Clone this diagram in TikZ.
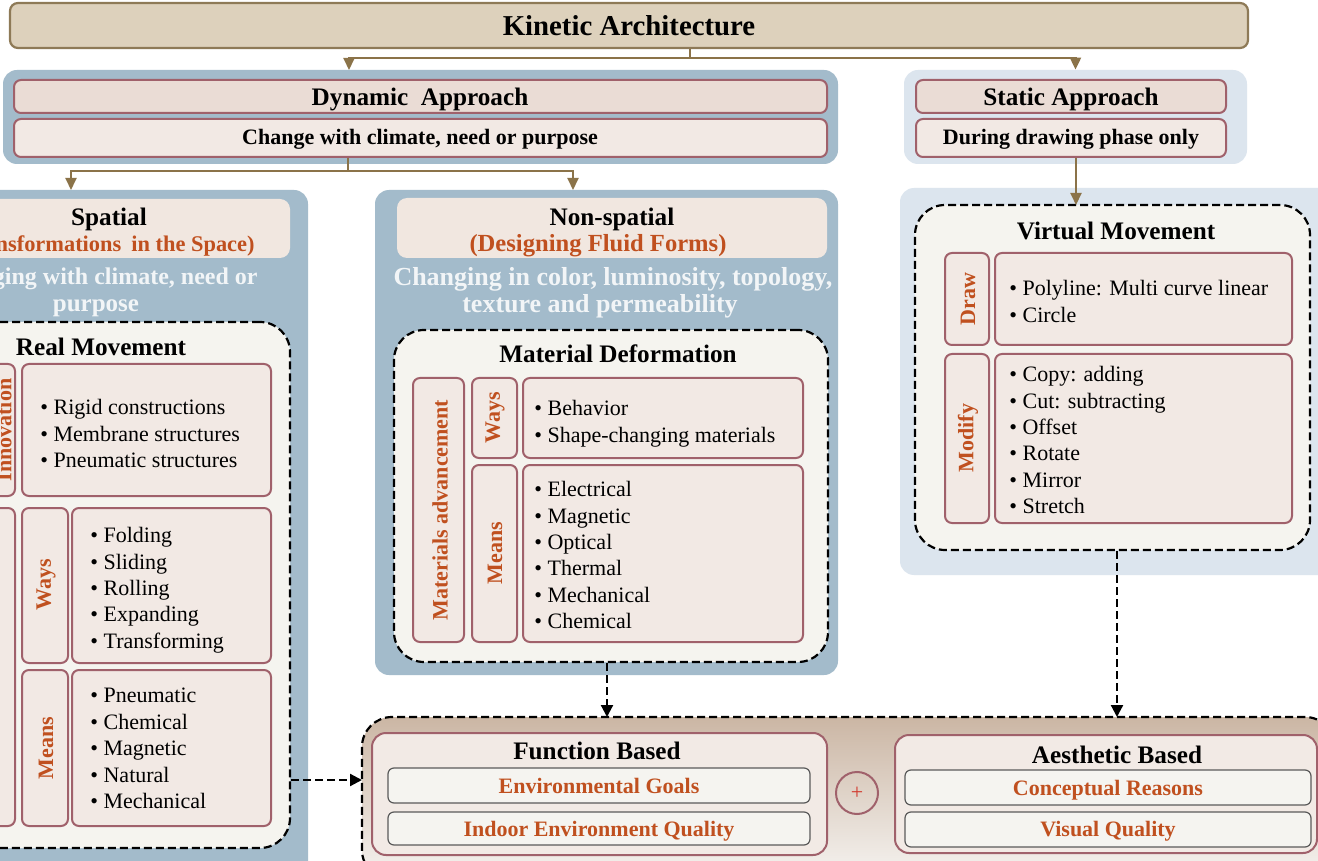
\documentclass[tikz,border=0pt]{standalone}
\usepackage{fontspec}
\setmainfont{Liberation Serif}
\usetikzlibrary{fit,arrows.meta}
\definecolor{kinfill}{HTML}{DDD1BC}
\definecolor{kinline}{HTML}{8E7A57}
\definecolor{conncol}{HTML}{8B7349}
\definecolor{panelblue}{HTML}{A3BBCB}
\definecolor{panellight}{HTML}{DCE5EE}
\definecolor{boxfill}{HTML}{F2E9E4}
\definecolor{boxfillA}{HTML}{EADCD5}
\definecolor{boxline}{HTML}{A0616B}
\definecolor{hdrfill}{HTML}{F1E7E0}
\definecolor{dashfill}{HTML}{F5F4EF}
\definecolor{orng}{HTML}{C0501F}
\definecolor{whitetxt}{HTML}{F2F5F7}
\definecolor{goalfill}{HTML}{F5F4F0}
\definecolor{goalline}{HTML}{5A5A5A}
\definecolor{gradtop}{HTML}{CBB6A4}
\definecolor{gradbot}{HTML}{F6F4F1}
\definecolor{fnfill}{HTML}{F2EAE5}
\definecolor{pluscol}{HTML}{D23A2E}
\newcommand\fbody{\fontsize{11}{13.2}\selectfont}
\newcommand\fhead{\bfseries\fontsize{12.6}{14}\selectfont}
\newcommand\fsub{\bfseries\fontsize{11}{13}\selectfont}
\begin{document}
\begin{tikzpicture}[x=0.5pt,y=-0.5pt,
  panel/.style={fill=panelblue, rounded corners=7pt, inner sep=0pt},
  lpanel/.style={fill=panellight, rounded corners=7pt, inner sep=0pt},
  lbox/.style={fill=boxfill, draw=boxline, line width=1pt, rounded corners=3.5pt, inner sep=0pt},
  hdr/.style={fill=hdrfill, rounded corners=5pt, inner sep=0pt},
  dbox/.style={fill=dashfill, draw=black, line width=1.1pt, dash pattern=on 4pt off 2pt, rounded corners=15pt, inner sep=0pt},
  fnbox/.style={fill=fnfill, draw=boxline, line width=1pt, rounded corners=7pt, inner sep=0pt},
  goal/.style={fill=goalfill, draw=goalline, line width=0.6pt, rounded corners=3pt, inner sep=0pt},
  one/.style={inner sep=0pt, anchor=base},
  items/.style={inner sep=0pt, anchor=north west, align=left, font=\fbody},
  vlab/.style={inner sep=0pt, rotate=90, text=orng, font=\fsub},
  connline/.style={draw=conncol, line width=1pt},
  carrow/.style={connline, -{Triangle[width=5.5pt,length=6pt]}},
  darrow/.style={draw=black, line width=1.1pt, dash pattern=on 4pt off 2pt, -{Triangle[width=6pt,length=6pt]}}
]
\useasboundingbox (0,0) rectangle (1318,861);
\fill[white] (0,0) rectangle (1318,861);
\clip (0,0) rectangle (1318,861);

% ---------- top
\node[fit={(10,3) (1248,48)}, fill=kinfill, draw=kinline, line width=1.1pt, rounded corners=4pt, inner sep=0pt] (kin) {};
\node[one, font=\bfseries\fontsize{14.4}{17}\selectfont] (tkin) at (629,36) {Kinetic Architecture};

% ---------- dynamic
\node[panel, fit={(3,70) (838,164)}] (dynP) {};
\node[lbox, fill=boxfillA, fit={(14,80) (827,113)}] (dynA) {};
\node[lbox, fit={(14,119) (827,157)}] (dynC) {};
\node[one, font=\fhead] (tdynA) at (420,105.5) {Dynamic\ \ Approach};
\node[one, font=\fsub] (tdynC) at (420,145) {Change with climate, need or purpose};

% ---------- static
\node[lpanel, fit={(904,70) (1247,164)}] (stP) {};
\node[lbox, fill=boxfillA, fit={(916,80) (1226,113)}] (stA) {};
\node[lbox, fit={(916,119) (1226,157)}] (stC) {};
\node[one, font=\fhead] (tstA) at (1071,105.5) {Static Approach};
\node[one, font=\fsub] (tstC) at (1071,145) {During drawing phase only};

% ---------- spatial
\node[panel, fit={(-105,190) (308,900)}] (spP) {};
\node[hdr, fit={(-90,199) (290,258)}] (spH) {};
\node[one, font=\fhead] (tsp1) at (109,225.5) {Spatial};
\node[one, font=\bfseries\fontsize{11.2}{13}\selectfont, text=orng, anchor=base east] (tsp2) at (255,251.5) {(Transformations\hspace{0.45em}in the Space)};
\node[one, font=\bfseries\fontsize{12}{14}\selectfont, text=whitetxt, anchor=base east] (tsp3) at (258,285) {Changing with climate, need or};
\node[one, font=\bfseries\fontsize{12.5}{14}\selectfont, text=whitetxt] (tsp4) at (96,312) {purpose};
\node[dbox, fit={(-88,322) (290,848)}] (realD) {};
\node[one, font=\fhead] (treal) at (101,355.5) {Real Movement};
\node[lbox, fit={(-31,364) (15,496)}] (innL) {};
\node[lbox, fit={(22,364) (271,496)}] (innI) {};
\node[lbox, fit={(-31,508) (15,826)}] (mechL) {};
\node[lbox, fit={(22,508) (68,663)}] (rwL) {};
\node[lbox, fit={(72,508) (271,663)}] (rwI) {};
\node[lbox, fit={(22,670) (68,826)}] (rmL) {};
\node[lbox, fit={(72,670) (271,826)}] (rmI) {};
\node[inner sep=0pt, rotate=90, anchor=south, text=orng, font=\fsub] (tinn) at (12,430) {Innovation};
\node[vlab] (trw) at (46,585) {Ways};
\node[vlab] (trm) at (46,748) {Means};
\node[items] (tinnI) at (40,399) {\textbullet\ Rigid constructions\\ \textbullet\ Membrane structures\\ \textbullet\ Pneumatic structures};
\node[items] (trwI) at (90,527) {\textbullet\ Folding\\ \textbullet\ Sliding\\ \textbullet\ Rolling\\ \textbullet\ Expanding\\ \textbullet\ Transforming};
\node[items] (trmI) at (90,688) {\textbullet\ Pneumatic\\ \textbullet\ Chemical\\ \textbullet\ Magnetic\\ \textbullet\ Natural\\ \textbullet\ Mechanical};

% ---------- non-spatial
\node[panel, fit={(375,190) (838,675)}] (nsP) {};
\node[hdr, fit={(397,198) (827,258)}] (nsH) {};
\node[one, font=\fhead] (tns1) at (612,225.5) {Non-spatial};
\node[one, font=\bfseries\fontsize{12.3}{14}\selectfont, text=orng] (tns2) at (598,252) {(Designing Fluid Forms)};
\node[one, font=\bfseries\fontsize{13}{14.5}\selectfont, text=whitetxt] (tns3) at (613,285.5) {Changing in color, luminosity, topology,};
\node[one, font=\bfseries\fontsize{13}{14.5}\selectfont, text=whitetxt] (tns4) at (600,313) {texture and permeability};
\node[dbox, fit={(394,330) (828,662)}] (matD) {};
\node[one, font=\fhead] (tmat) at (618,363) {Material Deformation};
\node[lbox, fit={(413,378) (464,642)}] (maL) {};
\node[lbox, fit={(472,378) (517,458)}] (mwL) {};
\node[lbox, fit={(523,378) (803,458)}] (mwI) {};
\node[lbox, fit={(472,465) (517,642)}] (mmL) {};
\node[lbox, fit={(523,465) (803,642)}] (mmI) {};
\node[vlab] (tma) at (440,510) {Materials advancement};
\node[vlab] (tmw) at (495,418) {Ways};
\node[vlab] (tmm) at (495,553) {Means};
\node[items] (tmwI) at (534,400) {\textbullet\ Behavior\\ \textbullet\ Shape-changing materials};
\node[items] (tmmI) at (534,481) {\textbullet\ Electrical\\ \textbullet\ Magnetic\\ \textbullet\ Optical\\ \textbullet\ Thermal\\ \textbullet\ Mechanical\\ \textbullet\ Chemical};

% ---------- virtual
\node[lpanel, fit={(900,188) (1345,575)}] (vP) {};
\node[dbox, fit={(915,205) (1310,550)}] (virtD) {};
\node[one, font=\fhead] (tvirt) at (1116,240) {Virtual Movement};
\node[lbox, fit={(945,253) (989,345)}] (drL) {};
\node[lbox, fit={(995,253) (1292,345)}] (drI) {};
\node[lbox, fit={(945,354) (989,523)}] (moL) {};
\node[lbox, fit={(995,354) (1292,523)}] (moI) {};
\node[vlab] (tdr) at (968,299) {Draw};
\node[vlab] (tmo) at (968,438) {Modify};
\node[items] (tdrI) at (1009,280) {\textbullet\ Polyline: Multi curve linear\\ \textbullet\ Circle};
\node[items] (tmoI) at (1009,366) {\textbullet\ Copy: adding\\ \textbullet\ Cut: subtracting\\ \textbullet\ Offset\\ \textbullet\ Rotate\\ \textbullet\ Mirror\\ \textbullet\ Stretch};

% ---------- bottom
\node[fit={(362,717) (1335,880)}, draw=black, line width=1.1pt, dash pattern=on 4pt off 2pt, rounded corners=15pt, inner sep=0pt, top color=gradtop, bottom color=gradbot] (botD) {};
\node[fnbox, fit={(372,733) (827,855)}] (fnB) {};
\node[one, font=\fhead] (tfn) at (597,759) {Function Based};
\node[goal, fit={(388,768) (810,803)}] (g1) {};
\node[goal, fit={(388,812) (810,845)}] (g2) {};
\node[one, font=\fsub, text=orng] (tg1) at (599,793) {Environmental Goals};
\node[one, font=\fsub, text=orng] (tg2) at (599,836) {Indoor Environment Quality};
\node[circle, draw=boxline, line width=1pt, minimum size=21pt, inner sep=0pt, text=pluscol, font=\fontsize{11}{12}\selectfont] (plus) at (857,793) {+};
\node[fnbox, fit={(895,735) (1317,853)}] (aeB) {};
\node[one, font=\fhead] (tae) at (1117,763) {Aesthetic Based};
\node[goal, fit={(905,770) (1311,805)}] (a1) {};
\node[goal, fit={(905,812) (1311,847)}] (a2) {};
\node[one, font=\fsub, text=orng] (ta1) at (1108,795) {Conceptual Reasons};
\node[one, font=\fsub, text=orng] (ta2) at (1108,836) {Visual Quality};

% ---------- connectors
\coordinate (j1) at (690,58);
\coordinate (dynTip) at (349,70);
\draw[connline] (kin.south -| j1) -- (j1);
\draw[carrow] (j1) -| (dynTip);
\draw[carrow] (j1) -| (stP.north);
\coordinate (j2) at (348,171);
\coordinate (spTip) at (71,190);
\coordinate (nsTip) at (573,190);
\draw[connline] (dynC.south -| j2) -- (j2);
\draw[carrow] (j2) -| (spTip);
\draw[carrow] (j2) -| (nsTip);
\coordinate (vTop) at (1076,205);
\draw[carrow] (stC.south -| vTop) -- (vTop);
\coordinate (mTip) at (607,717);
\coordinate (vTip) at (1117,717);
\coordinate (rTip) at (362,780);
\draw[darrow] (matD.south -| mTip) -- (mTip);
\draw[darrow] (virtD.south -| vTip) -- (vTip);
\draw[darrow] (realD.east |- rTip) -- (rTip);
\end{tikzpicture}
\end{document}
